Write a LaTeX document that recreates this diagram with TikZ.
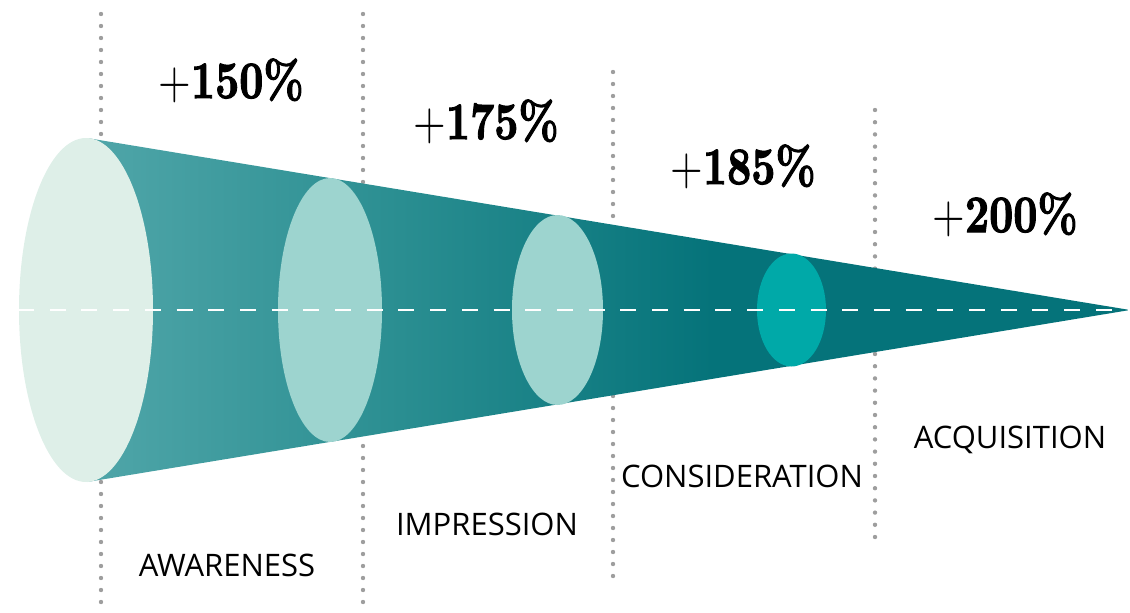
\documentclass[tikz,border=0pt]{standalone}
\usepackage{fontspec}
\newfontfamily\stagefont{Open Sans}
\newfontface\figbold{lmroman10-bold.otf}[FakeBold=2.2]
\newfontface\figplain{lmroman10-regular.otf}
\definecolor{guide}{HTML}{9E9E9E}
\definecolor{rimA}{HTML}{DEEFE8}
\definecolor{rimB}{HTML}{9DD4CF}
\definecolor{rimD}{HTML}{00A9A8}
\definecolor{coneL}{HTML}{50A6A9}
\definecolor{coneM}{HTML}{2A8E91}
\definecolor{coneR}{HTML}{05737A}
\pgfdeclarehorizontalshading{conefade}{100bp}{%
  color(0bp)=(coneL); color(25bp)=(coneL); color(40bp)=(coneM);
  color(55bp)=(coneR); color(100bp)=(coneR)}
\newcommand{\growth}[1]{\scalebox{1}[1.25]{{\figplain +}{\figbold #1\%}}}
\tikzset{
  guideline/.style={draw=guide, line width=4.4pt, line cap=round,
    dash pattern=on 0pt off 12pt},
  pct/.style={anchor=base, inner sep=0pt,
    font=\fontsize{42}{50}\selectfont},
  stage/.style={anchor=base, inner sep=0pt,
    font=\stagefont\fontsize{31}{37}\selectfont, text=black},
}
\begin{document}
\begin{tikzpicture}[x=1pt, y=-1pt]
  \useasboundingbox (0,0) rectangle (1130,613);

  % vertical stage separators (behind the cone)
  \draw[guideline] (101,14) -- (101,613);
  \draw[guideline] (363,14) -- (363,613);
  \draw[guideline] (613,72) -- (613,577);
  \draw[guideline, dash pattern=on 0pt off 12.2pt] (875,110) -- (875,539);

  % the cone body
  \shade[shading=conefade] (87,138) -- (1130,310) -- (87,482) -- cycle;

  % cross sections
  \fill[rimA] (86,310) ellipse [x radius=67, y radius=172];
  \fill[rimB] (330,310) ellipse [x radius=52, y radius=132];
  \fill[rimB] (557.5,310) ellipse [x radius=45.5, y radius=95];
  \fill[rimD] (791.5,310) ellipse [x radius=34.5, y radius=56.5];

  % axis
  \coordinate (axisL) at (18,310);
  \coordinate (axisR) at (1130,310);
  \draw[white, line width=2.4pt, dash pattern=on 16pt off 15.7pt]
    (axisL) -- (axisR);

  % growth figures
  \node[pct] (g1) at (231,98)   {\growth{150}};
  \node[pct] (g2) at (486,139)  {\growth{175}};
  \node[pct] (g3) at (743,184)  {\growth{185}};
  \node[pct] (g4) at (1005,232) {\growth{200}};

  % stage names
  \node[stage] (s1) at (227,576)  {AWARENESS};
  \node[stage] (s2) at (487,535)  {IMPRESSION};
  \node[stage] (s3) at (742,487)  {CONSIDERATION};
  \node[stage] (s4) at (1010,448) {ACQUISITION};
\end{tikzpicture}
\end{document}
